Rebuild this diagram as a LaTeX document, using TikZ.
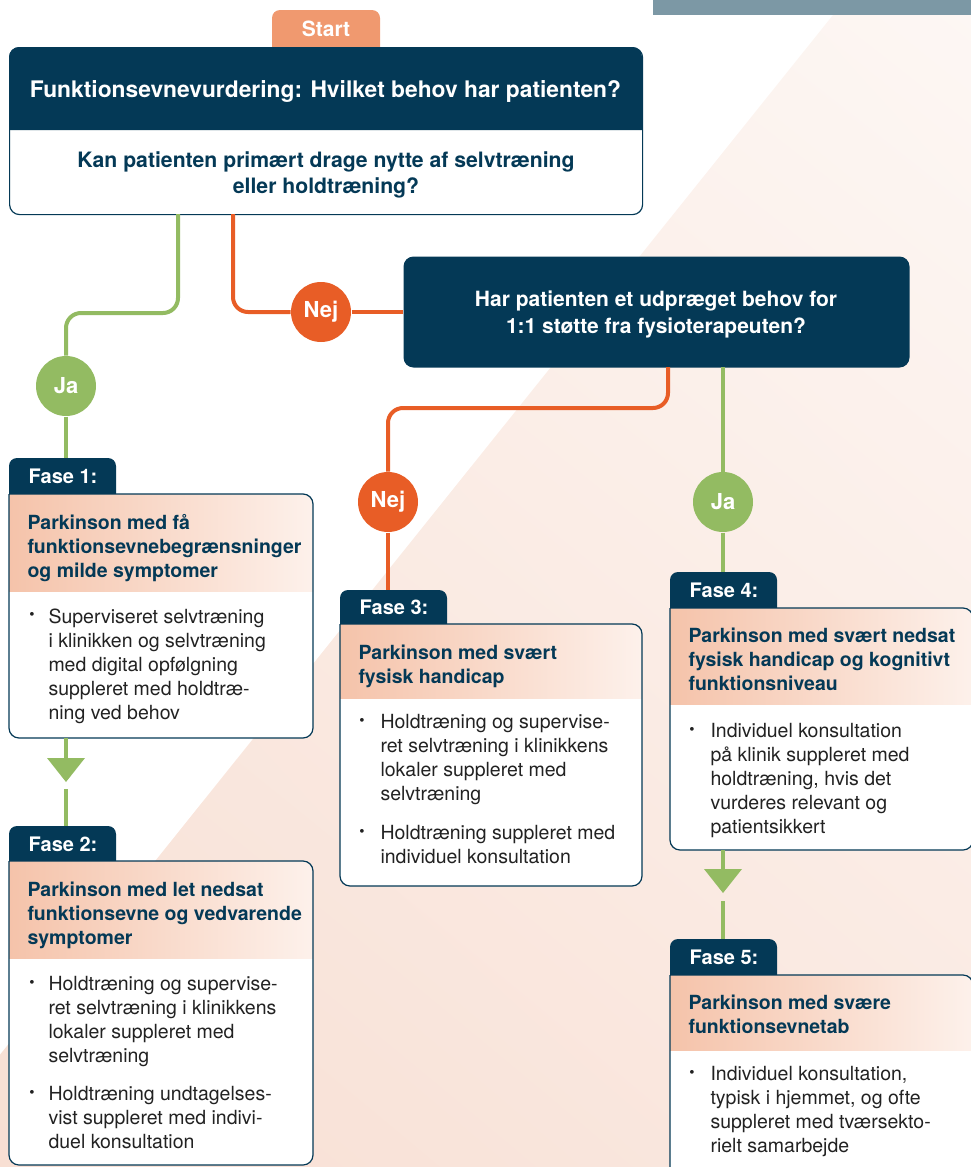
\documentclass[tikz,border=0pt]{standalone}
\usepackage{fontspec}
\setmainfont{TeX Gyre Heros}
\usetikzlibrary{positioning,shadings}

\definecolor{navy}{RGB}{4,57,86}
\definecolor{nejorange}{RGB}{232,93,38}
\definecolor{jagreen}{RGB}{147,187,98}
\definecolor{startorange}{RGB}{240,153,111}
\definecolor{headleft}{RGB}{245,195,170}
\definecolor{headright}{RGB}{253,241,235}
\definecolor{bodygrey}{RGB}{34,34,34}
\definecolor{topbar}{RGB}{124,152,165}
\definecolor{bgA}{RGB}{250,237,230}
\definecolor{bgB}{RGB}{253,247,244}
\definecolor{bgC}{RGB}{248,222,210}
\definecolor{bgD}{RGB}{250,233,225}

\tikzset{every picture/.style={line width=1pt}}

\begin{document}
\begin{tikzpicture}[x=1pt,y=1pt,yscale=-1,
  boxline/.style={draw=navy, line width=1.2pt, rounded corners=10},
  headfill/.style={left color=headleft, right color=headright},
  tabtext/.style={text=white, font=\fontsize{20}{24}\selectfont\bfseries, minimum width=107, minimum height=34, inner sep=0, anchor=north west},
  headtext/.style={text=navy, font=\fontsize{19.5}{24}\selectfont\bfseries, anchor=north west, inner sep=0, align=left},
  bodytext/.style={text=bodygrey, font=\fontsize{19.5}{24}\selectfont, anchor=north west, inner sep=0, align=left},
  bullet/.style={text=bodygrey, font=\fontsize{15}{15}\selectfont, inner sep=0},
  yesline/.style={draw=jagreen, line width=4pt, rounded corners=15},
  noline/.style={draw=nejorange, line width=4pt, rounded corners=15},
  answer/.style={circle, text=white, minimum size=60, inner sep=0, font=\fontsize{22}{22}\selectfont\bfseries},
  ja/.style={answer, fill=jagreen},
  nej/.style={answer, fill=nejorange}
]
\useasboundingbox (0,0) rectangle (971,1167);

% background
\shade[upper left=bgA, upper right=bgB, lower left=bgC, lower right=bgD] (845,0) -- (971,0) -- (971,1167) -- (-90,1167) -- cycle;
\fill[topbar] (653,0) rectangle (971,15);

% Start + first question
\fill[startorange, rounded corners=8] (272,47) -- (272,10) -- (380,10) -- (380,47);
\node[text=white, font=\fontsize{21}{21}\selectfont\bfseries, anchor=base, inner sep=0] (start) at (326,36) {Start};
\node[draw=navy, line width=1.2pt, fill=white, rounded corners=10, minimum width=633, minimum height=167, anchor=north west, inner sep=0] (q1) at (9,47) {};
\fill[navy, rounded corners=10] (9,130) -- (9,47) -- (642,47) -- (642,130);
\node[text=white, font=\fontsize{22.8}{26}\selectfont\bfseries, anchor=base, inner sep=0] (q1title) at (325.5,97) {Funktionsevnevurdering: Hvilket behov har patienten?};
\node[text=navy, font=\fontsize{21.2}{26}\selectfont\bfseries, anchor=north, inner sep=0, align=center] (q1text) at (326,151) {Kan patienten primært drage nytte af selvtræning\\eller holdtræning?};

% second question
\node[fill=navy, rounded corners=10, minimum width=506, minimum height=111, anchor=north west, inner sep=0] (q2) at (403,256) {};
\node[text=white, font=\fontsize{21}{27}\selectfont\bfseries, anchor=north, inner sep=0, align=center] (q2text) at (656,290) {Har patienten et udpræget behov for\\1:1 støtte fra fysioterapeuten?};

% answers
\node[ja] (ja1) at (66,386) {Ja};
\node[nej] (nej1) at (321,312) {Nej};
\node[nej] (nej2) at (388,502) {Nej};
\node[ja] (ja2) at (723,502) {Ja};

% Fase 1
\fill[navy, rounded corners=8] (9,500) -- (9,458) -- (116,458) -- (116,500);
\node[tabtext, minimum height=36] (fase1) at (9,458) {Fase 1:};
\begin{scope}
\clip[rounded corners=10] (9,494) -- (313,494) -- (313,738) -- (9,738) -- (9,494);
\fill[white] (9,494) rectangle (313,738);
\shade[headfill] (9,494) rectangle (313,591);
\end{scope}
\draw[boxline] (9,494) -- (313,494) -- (313,738) -- (9,738) -- (9,494);
\node[headtext] (f1head) at (27,514) {Parkinson med få\\funktionsevnebegrænsninger\\og milde symptomer};
\node[bullet] (f1b1) at (32,616) {•};
\node[bodytext] (f1body) at (48,608) {Superviseret selvtræning\\i klinikken og selvtræning\\med digital opfølgning\\suppleret med holdtræ-\\ning ved behov};

% Fase 2
\fill[navy, rounded corners=8] (9,866) -- (9,826) -- (116,826) -- (116,866);
\node[tabtext, minimum height=35] (fase2) at (9,826) {Fase 2:};
\begin{scope}
\clip[rounded corners=10] (9,861) -- (313,861) -- (313,1165) -- (9,1165) -- (9,861);
\fill[white] (9,861) rectangle (313,1165);
\shade[headfill] (9,861) rectangle (313,958);
\end{scope}
\draw[boxline] (9,861) -- (313,861) -- (313,1165) -- (9,1165) -- (9,861);
\node[headtext] (f2head) at (27,881) {Parkinson med let nedsat\\funktionsevne og vedvarende\\symptomer};
\node[bullet] (f2b1) at (32,984) {•};
\node[bodytext] (f2body1) at (48,976) {Holdtræning og supervise-\\ret selvtræning i klinikkens\\lokaler suppleret med\\selvtræning};
\node[bullet] (f2b2) at (32,1094) {•};
\node[bodytext] (f2body2) at (48,1086) {Holdtræning undtagelses-\\vist suppleret med indivi-\\duel konsultation};

% Fase 3
\fill[navy, rounded corners=8] (340,630) -- (340,590) -- (447,590) -- (447,630);
\node[tabtext] (fase3) at (340,590) {Fase 3:};
\begin{scope}
\clip[rounded corners=10] (340,624) -- (642,624) -- (642,886) -- (340,886) -- (340,624);
\fill[white] (340,624) rectangle (642,886);
\shade[headfill] (340,624) rectangle (642,698);
\end{scope}
\draw[boxline] (340,624) -- (642,624) -- (642,886) -- (340,886) -- (340,624);
\node[headtext] (f3head) at (358,644) {Parkinson med svært\\fysisk handicap};
\node[bullet] (f3b1) at (362,722) {•};
\node[bodytext] (f3body1) at (380,714) {Holdtræning og supervise-\\ret selvtræning i klinikkens\\lokaler suppleret med\\selvtræning};
\node[bullet] (f3b2) at (362,833) {•};
\node[bodytext] (f3body2) at (380,825) {Holdtræning suppleret med\\individuel konsultation};

% Fase 4
\fill[navy, rounded corners=8] (670,614) -- (670,572) -- (777,572) -- (777,614);
\node[tabtext, minimum height=36] (fase4) at (670,572) {Fase 4:};
\begin{scope}
\clip[rounded corners=10] (670,608) -- (973,608) -- (973,850) -- (670,850) -- (670,608);
\fill[white] (670,608) rectangle (973,850);
\shade[headfill] (670,608) rectangle (973,704);
\end{scope}
\draw[boxline] (670,608) -- (973,608) -- (973,850) -- (670,850) -- (670,608);
\node[headtext] (f4head) at (688,627) {Parkinson med svært nedsat\\fysisk handicap og kognitivt\\funktionsniveau};
\node[bullet] (f4b1) at (692,731) {•};
\node[bodytext] (f4body) at (710,723) {Individuel konsultation\\på klinik suppleret med\\holdtræning, hvis det\\vurderes relevant og\\patientsikkert};

% Fase 5
\fill[navy, rounded corners=8] (670,980) -- (670,939) -- (777,939) -- (777,980);
\node[tabtext, minimum height=36] (fase5) at (670,939) {Fase 5:};
\begin{scope}
\clip[rounded corners=10] (670,975) -- (973,975) -- (973,1190) -- (670,1190) -- (670,975);
\fill[white] (670,975) rectangle (973,1190);
\shade[headfill] (670,975) rectangle (973,1050);
\end{scope}
\draw[boxline] (670,975) -- (973,975) -- (973,1190) -- (670,1190) -- (670,975);
\node[headtext] (f5head) at (688,994) {Parkinson med svære\\funktionsevnetab};
\node[bullet] (f5b1) at (692,1074) {•};
\node[bodytext] (f5body) at (710,1066) {Individuel konsultation,\\typisk i hjemmet, og ofte\\suppleret med tværsekto-\\rielt samarbejde};

% connectors
\coordinate (q1yes) at (178,214);
\coordinate (q1no) at (233,214);
\coordinate (q2no) at (668,367);
\coordinate (q2yes) at (723,367);
\draw[yesline] (q1yes) -- (178,313) -- (66,313) -- (ja1);
\draw[yesline] (ja1) -- (ja1 |- fase1.north);
\draw[noline] (q1no) -- (233,312) -- (nej1);
\draw[noline] (nej1) -- (q2);
\draw[noline] (q2no) -- (668,408) -- (388,408) -- (nej2);
\draw[noline] (nej2) -- (nej2 |- fase3.north);
\draw[yesline] (q2yes) -- (ja2);
\draw[yesline] (ja2) -- (ja2 |- fase4.north);

% arrows between phases
\coordinate (f1out) at (66,738);
\coordinate (f2in) at (66,789);
\draw[yesline] (f1out) -- (66,762);
\fill[jagreen] (47,758) -- (85,758) -- (66,782) -- cycle;
\draw[yesline] (f2in) -- (f2in |- fase2.north);
\coordinate (f4out) at (723,850);
\coordinate (f5in) at (723,901);
\draw[yesline] (f4out) -- (723,873);
\fill[jagreen] (704,869) -- (742,869) -- (723,893) -- cycle;
\draw[yesline] (f5in) -- (f5in |- fase5.north);
\end{tikzpicture}
\end{document}
